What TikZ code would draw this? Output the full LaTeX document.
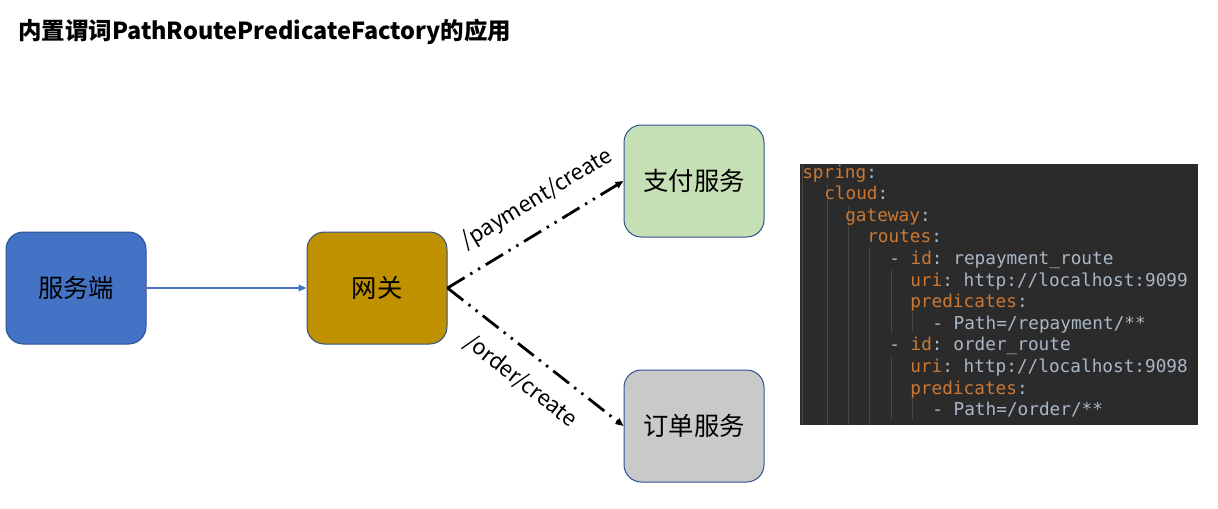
\documentclass[tikz,border=0pt]{standalone}
\usepackage{fontspec}
\setmainfont{Noto Sans CJK SC}
\setmonofont{DejaVu Sans Mono}
\usetikzlibrary{arrows.meta}

\definecolor{clientblue}{RGB}{68,114,196}
\definecolor{gatewaygold}{RGB}{191,144,0}
\definecolor{paygreen}{RGB}{197,224,180}
\definecolor{ordergray}{RGB}{201,201,201}
\definecolor{boxborder}{RGB}{47,82,143}
\definecolor{codebg}{RGB}{43,43,43}
\definecolor{codekey}{RGB}{204,120,50}
\definecolor{codeval}{RGB}{169,183,198}
\definecolor{codeguide}{RGB}{70,70,70}

\newcommand{\ykey}[1]{\textcolor{codekey}{#1}}

\tikzset{
  svcbox/.style={draw=boxborder, line width=0.75pt, rounded corners=13pt, minimum width=105pt, minimum height=84pt, inner sep=0pt, font=\fontsize{19}{22}\selectfont},
  routeline/.style={line width=2.1pt, dash pattern={on 15pt off 5pt on 1.8pt off 5pt on 1.8pt off 5pt}, -{Triangle[length=6pt,width=5pt]}},
  routelabel/.style={inner sep=0pt, font=\fontsize{16.5}{20}\selectfont},
  codeline/.style={anchor=base west, inner sep=0pt, text=codeval, font=\ttfamily\fontsize{13.3}{16}\selectfont},
  guide/.style={codeguide, line width=0.75pt},
}

\begin{document}
\begin{tikzpicture}[x=0.75pt,y=0.75pt,yscale=-1,xscale=1]
    \useasboundingbox (0,0) rectangle (1218,508);

    % Title
    \node (title) [anchor=west, inner sep=0pt, font=\bfseries\fontsize{17.6}{20}\selectfont] at (18,32) {内置谓词PathRoutePredicateFactory的应用};

    % Services
    \node (client) [svcbox, fill=clientblue] at (76,288) {服务端};
    \node (gateway) [svcbox, fill=gatewaygold] at (377,288) {网关};
    \node (payment) [svcbox, fill=paygreen] at (694,181) {支付服务};
    \node (order) [svcbox, fill=ordergray] at (694,426) {订单服务};

    % Connectors
    \draw [clientblue, line width=1.5pt, -{Triangle[length=6pt,width=5pt]}] (client) -- (gateway);
    \draw [routeline] (gateway.east) -- (payment.west);
    \draw [routeline] (gateway.east) -- (order.west);

    % Text Node
    \node (paylabel) [routelabel, rotate=31.2] at (537,199) {/payment/create};
    % Text Node
    \node (orderlabel) [routelabel, rotate=-37.9] at (521,381) {/order/create};

    %Shape: Code panel
    \fill [codebg] (800,164) rectangle (1198,425);
    % indent guides
    \draw [guide] (802,164) -- (802,425);
    \draw [guide] (827,184) -- (827,425);
    \draw [guide] (848,206) -- (848,425);
    \draw [guide] (869,248) -- (869,425);
    \draw [guide] (891,270) -- (891,334);
    \draw [guide] (891,356) -- (891,420);
    \draw [guide] (912,312) -- (912,332);
    \draw [guide] (912,398) -- (912,420);

    % Text Node
    \node (c1) [codeline] at (802,178) {\ykey{spring}:};
    % Text Node
    \node (c2) [codeline] at (824,199.6) {\ykey{cloud}:};
    % Text Node
    \node (c3) [codeline] at (845,221.2) {\ykey{gateway}:};
    % Text Node
    \node (c4) [codeline] at (867,242.8) {\ykey{routes}:};
    % Text Node
    \node (c5) [codeline] at (889,264.4) {- \ykey{id}: repayment\_route};
    % Text Node
    \node (c6) [codeline] at (910,286) {\ykey{uri}: http://localhost:9099};
    % Text Node
    \node (c7) [codeline] at (910,307.6) {\ykey{predicates}:};
    % Text Node
    \node (c8) [codeline] at (932,329.2) {- Path=/repayment/**};
    % Text Node
    \node (c9) [codeline] at (889,350.8) {- \ykey{id}: order\_route};
    % Text Node
    \node (c10) [codeline] at (910,372.4) {\ykey{uri}: http://localhost:9098};
    % Text Node
    \node (c11) [codeline] at (910,394) {\ykey{predicates}:};
    % Text Node
    \node (c12) [codeline] at (932,415.6) {- Path=/order/**};

\end{tikzpicture}
\end{document}
